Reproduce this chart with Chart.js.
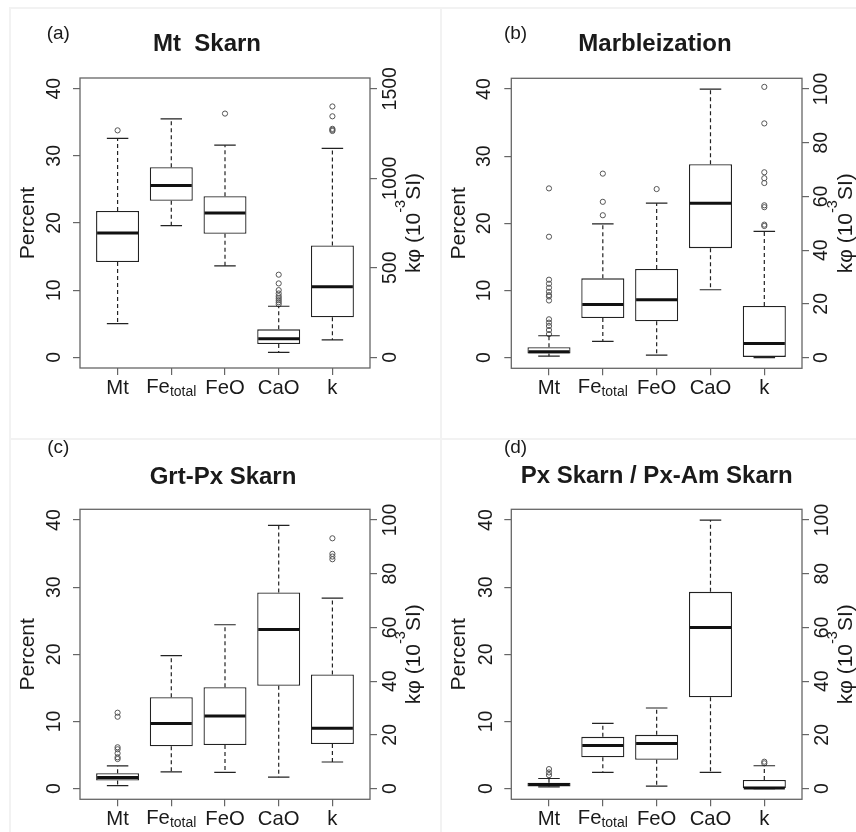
<!DOCTYPE html>
<html>
<head>
<meta charset="utf-8">
<script src="https://cdn.jsdelivr.net/npm/chart.js@4.4.1/dist/chart.umd.min.js"></script>
<style>
  body { margin: 0; background: #fff; }
  #wrap { position: relative; width: 856px; height: 832px; overflow: hidden; }
  .sep { position: absolute; background: #f2f2f2; }
  canvas { position: absolute; }
</style>
</head>
<body>
<div id="wrap">
  <div class="sep" style="left:10px;top:7px;width:846px;height:2px"></div>
  <div class="sep" style="left:10px;top:438px;width:846px;height:2px"></div>
  <div class="sep" style="left:9px;top:7px;width:2px;height:825px"></div>
  <div class="sep" style="left:440px;top:7px;width:2px;height:825px"></div>
  <canvas id="pa" width="428" height="416" style="left:0;top:0"></canvas>
  <canvas id="pb" width="428" height="416" style="left:428px;top:0"></canvas>
  <canvas id="pc" width="428" height="416" style="left:0;top:416px"></canvas>
  <canvas id="pd" width="428" height="416" style="left:428px;top:416px"></canvas>
</div>
<script>
const categories = ["Mt", "Fe_total", "FeO", "CaO", "k"];
const pctTicks = [0, 10, 20, 30, 40];
const kTicksA = [0, 500, 1000, 1500];
const kTicks = [0, 20, 40, 60, 80, 100];

// box stats: [lower whisker, Q1, median, Q3, upper whisker]
// Mt, Fe_total, FeO, CaO in percent; k in 10^-3 SI on the right axis
const mtSkarnPct = [[5.0, 14.2, 18.5, 21.8, 32.6], [19.6, 23.3, 25.6, 28.3, 35.5], [13.6, 18.4, 21.5, 24.0, 31.6], [0.74, 1.98, 2.77, 4.16, 7.6]];
const mtSkarnK = [97, 223, 394, 625, 1167];
const mtSkarnPctOut = [[33.8], [], [36.3], [12.3, 11.0, 10.0, 9.5, 9.1, 8.8, 8.5, 8.2, 7.9]];
const mtSkarnKOut = [1401, 1346, 1276, 1270, 1264];

const marblePct = [[0.2, 0.6, 0.85, 1.55, 3.25], [2.4, 5.9, 7.9, 11.8, 19.9], [0.35, 5.4, 8.6, 13.2, 23.0], [10.1, 16.3, 23.0, 28.8, 40.0]];
const marbleK = [0, 0.25, 5.2, 19.2, 47.0];
const marblePctOut = [[25.2, 18.0, 11.6, 11.0, 10.4, 9.8, 9.3, 9.1, 8.5, 5.7, 5.2, 4.7, 4.1, 3.5], [27.4, 23.2, 21.2], [25.1], []];
const marbleKOut = [100.8, 87.2, 69.0, 66.8, 65.0, 56.7, 56.0, 49.5, 49.0];

const grtPxPct = [[0.45, 1.19, 1.64, 2.28, 3.37], [2.5, 6.3, 9.7, 13.6, 19.8], [2.4, 6.5, 10.8, 15.1, 24.4], [1.7, 15.3, 23.7, 29.2, 39.2]];
const grtPxK = [9.9, 16.6, 22.5, 42.5, 70.9];
const grtPxPctOut = [[11.3, 10.7, 6.15, 5.85, 5.25, 4.66, 4.4], [], [], []];
const grtPxKOut = [93.2, 87.4, 86.4, 85.4];

const pxAmPct = [[0.25, 0.3, 0.6, 0.85, 1.5], [2.4, 4.65, 6.4, 7.7, 9.7], [0.35, 4.3, 6.7, 8.0, 12.0], [2.4, 13.6, 24.0, 29.3, 40.0]];
const pxAmK = [0, 0, 0.25, 3.2, 8.5];
const pxAmPctOut = [[2.0, 2.4, 2.9], [], [], []];
const pxAmKOut = [9.4, 10.0];

const FONT = "'Liberation Sans', Arial, sans-serif";
const TEXT = "#1a1a1a";
const LINE = "#222";
const FRAME = "#666";
const W = 428, H = 416;

Chart.defaults.font.family = FONT;
Chart.defaults.color = TEXT;

// whiskers, staples, medians, frame and the extra labels
const boxExtras = {
  id: "boxExtras",
  afterDatasetsDraw(chart) {
    const ctx = chart.ctx;
    ctx.save();
    chart.data.datasets.forEach((ds, di) => {
      if (!ds.stats) return;
      const ys = chart.scales[ds.yAxisID];
      const meta = chart.getDatasetMeta(di);
      const py = (v) => ys.getPixelForValue(v);
      ds.stats.forEach((s, j) => {
        const bar = meta.data[j];
        const cx = bar.x, hw = bar.width / 2;
        ctx.strokeStyle = LINE;
        ctx.lineWidth = 1.2;
        ctx.setLineDash([4, 3]);
        ctx.beginPath();
        ctx.moveTo(cx, py(s[3])); ctx.lineTo(cx, py(s[4]));
        ctx.moveTo(cx, py(s[1])); ctx.lineTo(cx, py(s[0]));
        ctx.stroke();
        ctx.setLineDash([]);
        ctx.beginPath();
        ctx.moveTo(cx - hw / 2, py(s[4])); ctx.lineTo(cx + hw / 2, py(s[4]));
        ctx.moveTo(cx - hw / 2, py(s[0])); ctx.lineTo(cx + hw / 2, py(s[0]));
        ctx.stroke();
        ctx.lineWidth = 3;
        ctx.strokeStyle = "#111";
        ctx.beginPath();
        ctx.moveTo(cx - hw + 1, py(s[2])); ctx.lineTo(cx + hw - 1, py(s[2]));
        ctx.stroke();
      });
    });
    ctx.restore();
  },
  afterDraw(chart, args, opts) {
    const ctx = chart.ctx;
    const ca = chart.chartArea;
    const xs = chart.scales.x;
    ctx.save();
    ctx.strokeStyle = FRAME;
    ctx.lineWidth = 1.3;
    ctx.strokeRect(ca.left, ca.top, ca.right - ca.left, ca.bottom - ca.top);

    ctx.fillStyle = TEXT;
    ctx.textAlign = "center";
    ctx.textBaseline = "middle";
    ctx.font = "19px " + FONT;
    ctx.fillText(opts.letter, opts.letterPos[0], opts.letterPos[1]);
    ctx.font = "bold 24px " + FONT;
    ctx.fillText(opts.title, opts.titlePos[0], opts.titlePos[1]);

    // Fe with subscript "total"
    const fx = xs.getPixelForValue(2);
    ctx.font = "20.3px " + FONT;
    const w1 = ctx.measureText("Fe").width;
    ctx.font = "14px " + FONT;
    const w2 = ctx.measureText("total").width;
    const x0 = fx - (w1 + w2) / 2;
    ctx.textAlign = "left";
    ctx.textBaseline = "alphabetic";
    ctx.font = "20.3px " + FONT;
    ctx.fillText("Fe", x0, xs.top + 24.5);
    ctx.font = "14px " + FONT;
    ctx.fillText("total", x0 + w1, xs.top + 27.5);

    // right axis title kφ (10^-3 SI), rotated
    const parts = [["kφ (10", 21, 0], ["-3", 14.5, -14], ["SI)", 21, 0]];
    let total = 0;
    parts.forEach((p) => { ctx.font = p[1] + "px " + FONT; p.push(ctx.measureText(p[0]).width); total += p[3]; });
    ctx.translate(ca.right + 44.5, (ca.top + ca.bottom) / 2);
    ctx.rotate(-Math.PI / 2);
    ctx.textBaseline = "middle";
    let tx = -total / 2;
    parts.forEach((p) => {
      ctx.font = p[1] + "px " + FONT;
      ctx.fillText(p[0], tx, p[2]);
      tx += p[3];
    });
    ctx.restore();
  },
};

const boxStyle = {
  backgroundColor: "#fff",
  borderColor: LINE,
  borderWidth: 1.3,
  borderSkipped: false,
  grouped: false,
  barPercentage: 0.8,
  categoryPercentage: 1,
};
const outStyle = {
  type: "scatter",
  pointStyle: "circle",
  pointRadius: 2.6,
  pointBorderWidth: 1,
  borderColor: "#555",
  backgroundColor: "rgba(0,0,0,0)",
};

function tickGrid() {
  return { display: true, drawOnChartArea: false, drawTicks: true, tickLength: 7, color: FRAME, lineWidth: 1.2, offset: false };
}

function makePanel(id, geo, title, letter, pct, k, pctOut, kOut, kMax, kTickVals) {
  const pctOutPts = [];
  pctOut.forEach((vals, i) => vals.forEach((v) => pctOutPts.push({ x: i + 1, y: v })));
  const yMin = -1.6, yMax = 41.6;
  new Chart(document.getElementById(id), {
    type: "bar",
    data: {
      datasets: [
        Object.assign({ data: pct.map((s, i) => ({ x: i + 1, y: [s[1], s[3]] })), stats: pct, yAxisID: "y" }, boxStyle),
        Object.assign({ data: [{ x: 5, y: [k[1], k[3]] }], stats: [k], yAxisID: "y2" }, boxStyle),
        Object.assign({ data: pctOutPts, yAxisID: "y" }, outStyle),
        Object.assign({ data: kOut.map((v) => ({ x: 5, y: v })), yAxisID: "y2" }, outStyle),
      ],
    },
    options: {
      responsive: false,
      animation: false,
      devicePixelRatio: 1,
      layout: { padding: { top: geo.top, left: 0, right: 0, bottom: 0 } },
      plugins: {
        legend: { display: false },
        tooltip: { enabled: false },
        boxExtras: { title: title, letter: letter, titlePos: geo.titlePos, letterPos: geo.letterPos },
      },
      scales: {
        x: {
          type: "linear", min: 0.3, max: 5.7, bounds: "data", offset: false,
          afterBuildTicks: (s) => { s.ticks = categories.map((c, i) => ({ value: i + 1 })); },
          afterFit: (s) => { s.height = H - geo.bottom; },
          grid: tickGrid(),
          border: { display: false },
          ticks: {
            font: { size: 20.3 }, padding: 0.8, color: TEXT, maxRotation: 0, autoSkip: false,
            callback: (v) => (categories[v - 1] === "Fe_total" ? "" : categories[v - 1]),
          },
        },
        y: {
          type: "linear", position: "left", min: yMin, max: yMax, bounds: "data",
          afterBuildTicks: (s) => { s.ticks = pctTicks.map((v) => ({ value: v })); },
          afterFit: (s) => { s.width = geo.left; },
          grid: tickGrid(),
          border: { display: false },
          ticks: { font: { size: 19.5 }, color: TEXT, minRotation: 90, maxRotation: 90, crossAlign: "center", padding: geo.lPad, autoSkip: false, callback: (v) => String(v) },
          title: { display: true, text: "Percent", color: TEXT, font: { size: 21 }, padding: { top: geo.left - 64.6, bottom: 0 } },
        },
        y2: {
          type: "linear", position: "right", min: (yMin * kMax) / 40, max: (yMax * kMax) / 40, bounds: "data",
          afterBuildTicks: (s) => { s.ticks = kTickVals.map((v) => ({ value: v })); },
          afterFit: (s) => { s.width = W - geo.right; },
          grid: tickGrid(),
          border: { display: false },
          ticks: { font: { size: 19.5 }, color: TEXT, minRotation: 90, maxRotation: 90, crossAlign: "center", padding: geo.rPad, autoSkip: false, callback: (v) => String(v) },
        },
      },
    },
    plugins: [boxExtras],
  });
}

makePanel("pa", { left: 80, right: 370, top: 78, bottom: 368, lPad: 7.2, rPad: -7.9, titlePos: [207, 44], letterPos: [58.3, 34] },
  "Mt  Skarn", "(a)", mtSkarnPct, mtSkarnK, mtSkarnPctOut, mtSkarnKOut, 1500, kTicksA);
makePanel("pb", { left: 83.3, right: 374, top: 78.3, bottom: 368.3, lPad: 9, rPad: -3.3, titlePos: [227, 44], letterPos: [87.5, 34] },
  "Marbleization", "(b)", marblePct, marbleK, marblePctOut, marbleKOut, 100, kTicks);
makePanel("pc", { left: 80, right: 370, top: 93.3, bottom: 383.3, lPad: 7.2, rPad: -2.5, titlePos: [223, 61.5], letterPos: [58.3, 31.5] },
  "Grt-Px Skarn", "(c)", grtPxPct, grtPxK, grtPxPctOut, grtPxKOut, 100, kTicks);
makePanel("pd", { left: 83.3, right: 374, top: 93.3, bottom: 383.3, lPad: 7.2, rPad: -3.1, titlePos: [228.7, 60.5], letterPos: [87.5, 31.5] },
  "Px Skarn / Px-Am Skarn", "(d)", pxAmPct, pxAmK, pxAmPctOut, pxAmKOut, 100, kTicks);
</script>
</body>
</html>
